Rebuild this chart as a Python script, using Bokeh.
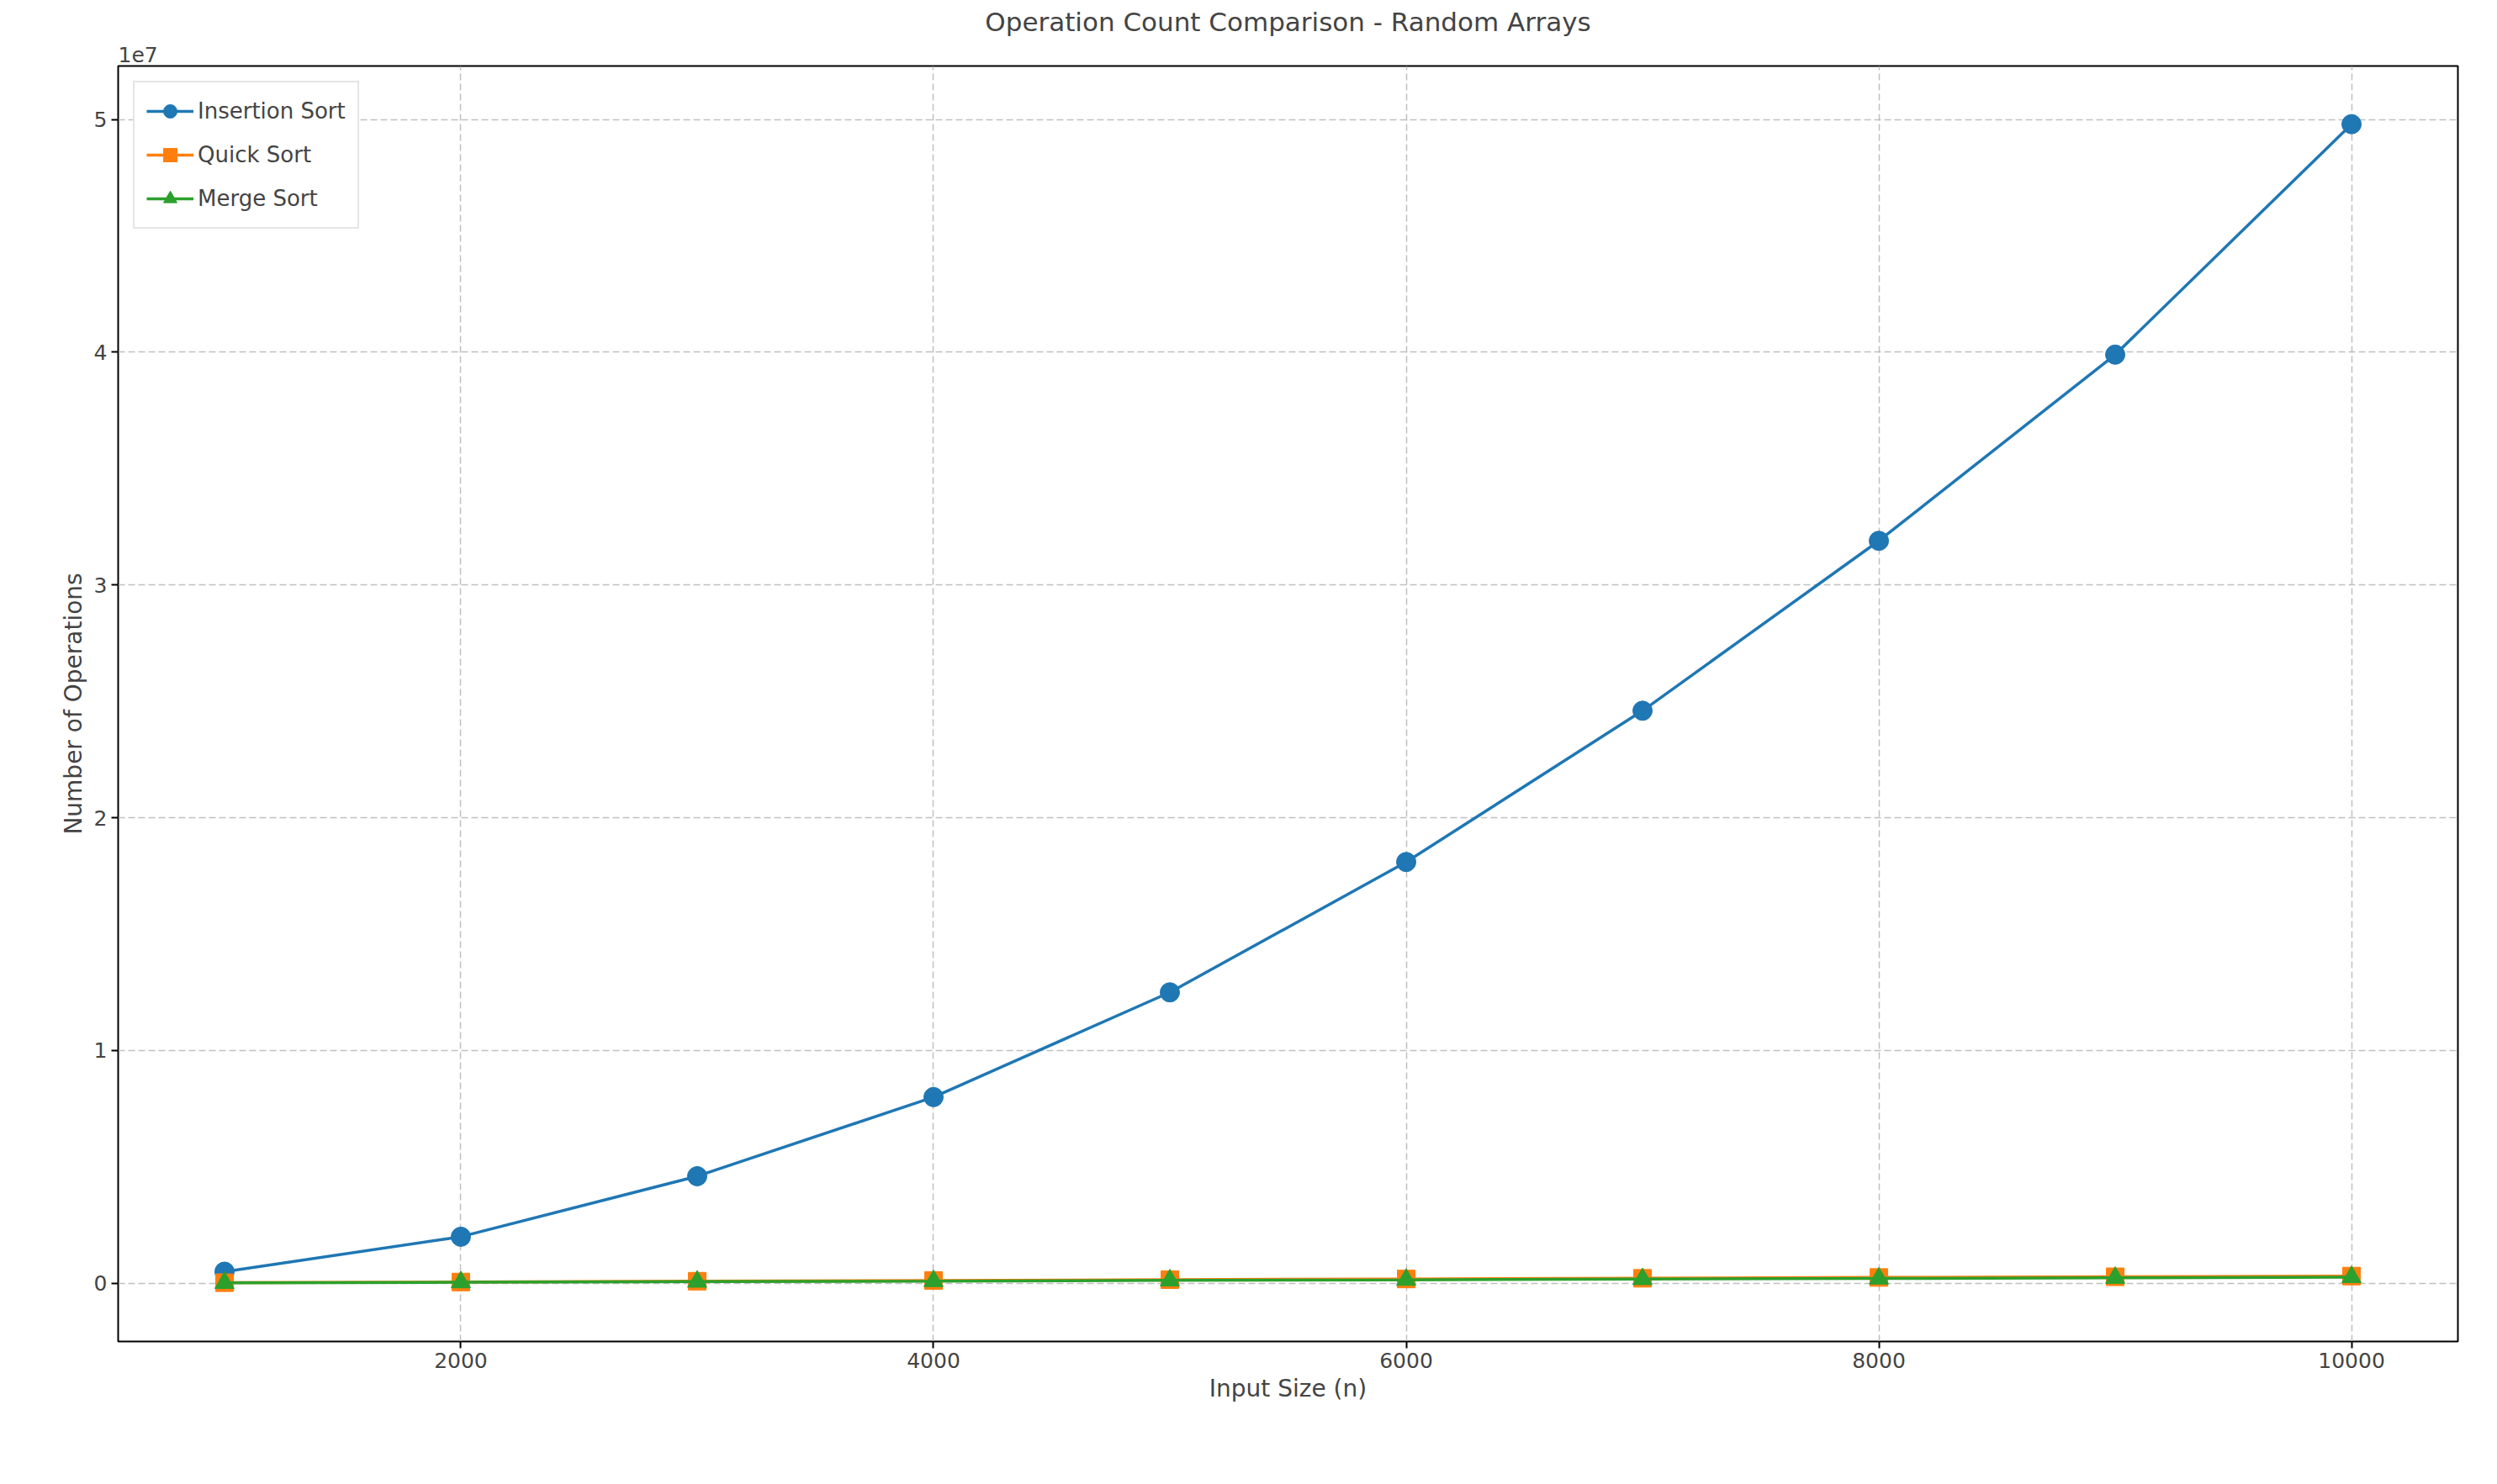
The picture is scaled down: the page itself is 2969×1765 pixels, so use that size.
from bokeh.plotting import figure
from bokeh.models import Range1d, Legend, LegendItem, CustomJSTickFormatter, FixedTicker, Title
from bokeh.embed import file_html
from bokeh.resources import INLINE

sizes = [1000, 2000, 3000, 4000, 5000, 6000, 7000, 8000, 9000, 10000]
insertion = [0.5e6, 2.0e6, 4.6e6, 8.0e6, 12.5e6, 18.1e6, 24.6e6, 31.9e6, 39.9e6, 49.8e6]
quick = [25e3, 55e3, 90e3, 120e3, 155e3, 185e3, 215e3, 250e3, 280e3, 310e3]
merge = [20e3, 45e3, 70e3, 95e3, 125e3, 150e3, 180e3, 205e3, 235e3, 265e3]

FONT = "DejaVu Sans"
p = figure(width=2950, height=1745, output_backend="svg", toolbar_location=None,
           x_range=Range1d(550, 10450), y_range=Range1d(-2.5e6, 52.3e6),
           min_border_left=140, min_border_right=28, min_border_top=20, min_border_bottom=150)
p.outline_line_color = "black"
p.outline_line_width = 2

p.title.text = "Operation Count Comparison - Random Arrays"
p.title.align = "center"
p.title.text_font = FONT
p.title.text_font_size = "31px"
p.title.text_font_style = "normal"
p.add_layout(Title(text="1e7", align="left", text_font=FONT, text_font_size="25px",
                   text_font_style="normal"), "above")

for ax in (p.xaxis, p.yaxis):
    ax.major_label_text_font = FONT
    ax.major_label_text_font_size = "25px"
    ax.axis_label_text_font = FONT
    ax.axis_label_text_font_size = "28px"
    ax.axis_label_text_font_style = "normal"
    ax.minor_tick_line_color = None
    ax.major_tick_out = 8
    ax.major_tick_in = 0
    ax.major_tick_line_width = 2
    ax.axis_line_color = None
p.xaxis.axis_label = "Input Size (n)"
p.yaxis.axis_label = "Number of Operations"
p.xaxis.ticker = FixedTicker(ticks=[2000, 4000, 6000, 8000, 10000])
p.yaxis.ticker = FixedTicker(ticks=[0, 1e7, 2e7, 3e7, 4e7, 5e7])
p.yaxis.formatter = CustomJSTickFormatter(code="return (tick/1e7).toFixed(0);")

p.grid.grid_line_color = "#b0b0b0"
p.grid.grid_line_dash = "8 4"
p.grid.grid_line_alpha = 0.8
p.grid.grid_line_width = 1.5

c1 = p.line(sizes, insertion, line_color="#1f77b4", line_width=3.5)
m1 = p.scatter(sizes, insertion, marker="circle", size=23, color="#1f77b4")
c2 = p.line(sizes, quick, line_color="#ff7f0e", line_width=3.5)
m2 = p.scatter(sizes, quick, marker="square", size=21, color="#ff7f0e")
c3 = p.line(sizes, merge, line_color="#2ca02c", line_width=3.5)
m3 = p.scatter(sizes, merge, marker="triangle", size=23, color="#2ca02c")

legend = Legend(items=[LegendItem(label="Insertion Sort", renderers=[c1, m1]),
                       LegendItem(label="Quick Sort", renderers=[c2, m2]),
                       LegendItem(label="Merge Sort", renderers=[c3, m3])],
                location="top_left", label_text_font=FONT, label_text_font_size="26px",
                border_line_color="#cccccc", border_line_width=2, glyph_width=56,
                glyph_height=40, label_height=40, spacing=12, margin=18, padding=14)
p.add_layout(legend)

open("out.html", "w").write(file_html(p, INLINE))
